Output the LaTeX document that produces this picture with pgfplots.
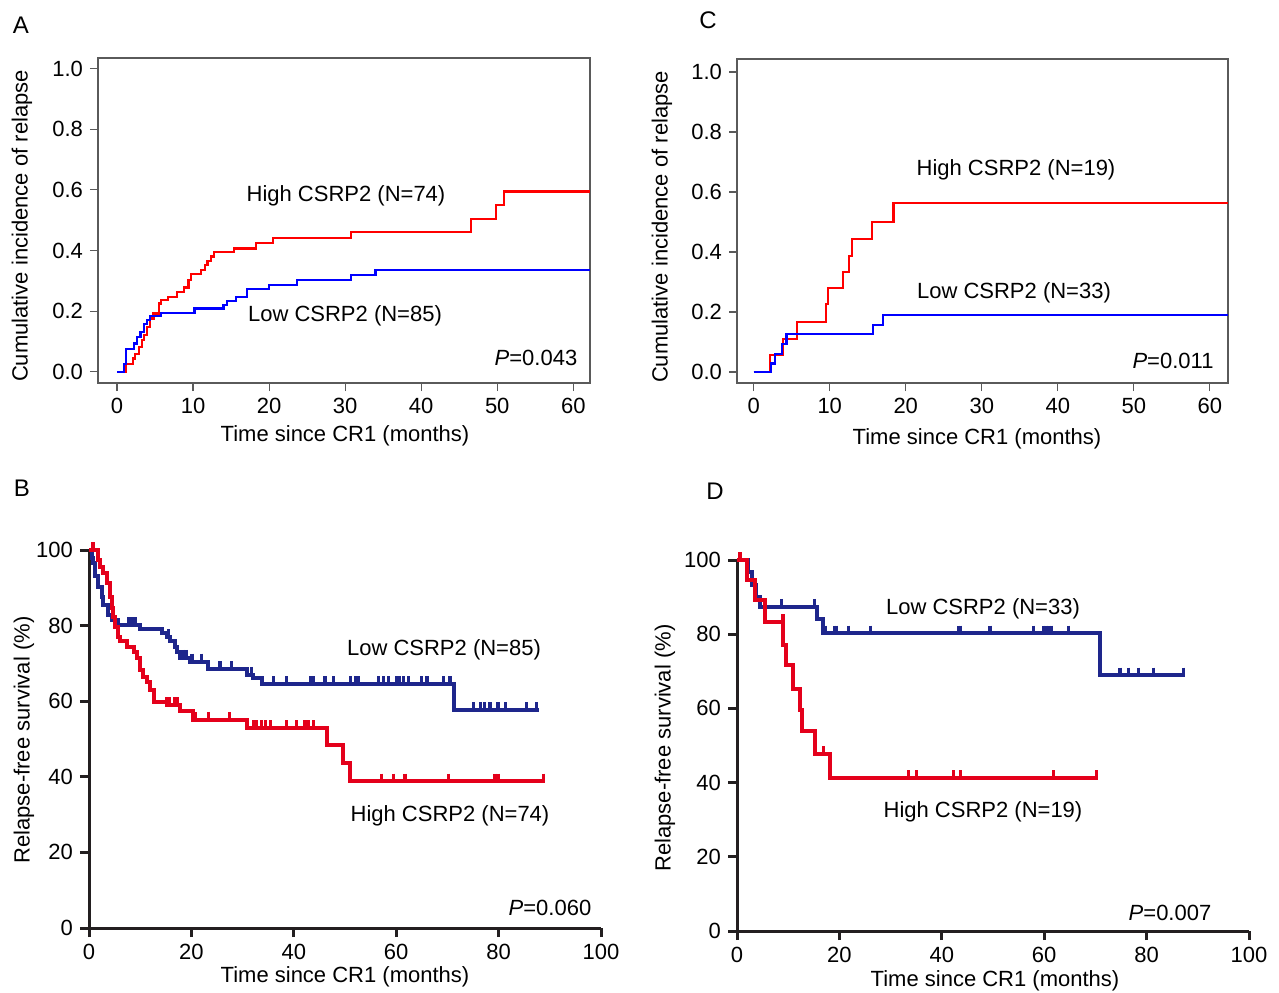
\documentclass[border=0pt]{standalone}
\usepackage{fontspec}
\setmainfont{Liberation Sans}
\usepackage{pgfplots}
\pgfplotsset{compat=1.18}

\definecolor{kmred}{RGB}{228,0,27}
\definecolor{kmblue}{RGB}{30,38,140}
\definecolor{axgray}{RGB}{90,90,90}
\definecolor{axblack}{RGB}{35,31,32}

\newcommand{\lbl}{\fontsize{11}{13}\selectfont}

\pgfplotsset{
  ciaxis/.style={
    anchor=south west, scale only axis,
    axis line style={axgray, line width=0.6pt},
    tick style={axgray, line width=0.6pt},
    tick align=outside, major tick length=4pt,
    xtick pos=bottom, ytick pos=left,
    xtick={0,10,...,60}, ytick={0,0.2,0.4,0.6,0.8,1.0},
    yticklabel style={/pgf/number format/.cd, fixed, fixed zerofill, precision=1},
    tick label style={font=\lbl},
    /pgf/number format/assume math mode=true,
  },
  kmaxis/.style={
    anchor=south west, scale only axis,
    axis lines=left, axis line style={-, axblack, line width=1.5pt},
    tick style={axblack, line width=1.5pt},
    tick align=outside, major tick length=4.5pt,
    xmin=0, xmax=100, ymin=0, ymax=100,
    xtick={0,20,...,100}, ytick={0,20,...,100},
    tick label style={font=\lbl},
    /pgf/number format/assume math mode=true,
    clip=false,
  },
  cens/.style={only marks, mark=|, mark size=2.3pt,
    mark options={line width=1.6pt, yshift=1.6pt}},
}

\begin{document}
\begin{tikzpicture}
\path[use as bounding box] (0,0) rectangle (639.5pt,-496pt);

% A
\begin{axis}[ciaxis, at={(49pt,-191.5pt)}, width=246pt, height=162.5pt,
  xmin=-2.5, xmax=62.2, ymin=-0.037, ymax=1.035]
\addplot[const plot, red, line width=1.1pt] coordinates {
(0,0) (1.2,0.027) (2.1,0.044) (2.4,0.060) (2.85,0.082) (3.3,0.104) (3.6,0.121)
(3.95,0.148) (4.3,0.176) (4.8,0.192) (5.5,0.225) (5.8,0.236) (6.7,0.247)
(7.9,0.264) (8.8,0.278) (9.4,0.302) (9.7,0.322) (11.0,0.335) (11.6,0.352)
(11.9,0.366) (12.4,0.380) (12.8,0.396) (15.4,0.407) (18.3,0.425) (20.5,0.440)
(30.8,0.462) (46.6,0.505) (49.8,0.549) (50.9,0.595) (62.2,0.595)};
\addplot[const plot, blue, line width=1.1pt] coordinates {
(0,0) (0.9,0.027) (1.2,0.075) (2.2,0.093) (2.6,0.115) (3.1,0.132) (3.5,0.157)
(3.9,0.170) (4.3,0.184) (5.8,0.195) (10.2,0.209) (14.0,0.220) (14.5,0.234)
(15.6,0.247) (17.1,0.272) (20.0,0.286) (23.7,0.302) (30.8,0.319) (34.0,0.336)
(62.2,0.336)};
\end{axis}

% C
\begin{axis}[ciaxis, at={(368.5pt,-191.5pt)}, width=245.5pt, height=162pt,
  xmin=-2.2, xmax=62.4, ymin=-0.037, ymax=1.043]
\addplot[const plot, red, line width=1.1pt] coordinates {
(0,0) (2.1,0.056) (3.8,0.111) (5.7,0.167) (9.5,0.226) (9.8,0.280) (11.7,0.333)
(12.5,0.386) (12.9,0.444) (15.6,0.500) (18.4,0.563) (62.4,0.563)};
\addplot[const plot, blue, line width=1.1pt] coordinates {
(0,0) (2.3,0.028) (2.8,0.061) (3.7,0.094) (4.3,0.126) (15.7,0.156) (17.0,0.191)
(62.4,0.191)};
\end{axis}

% B
\begin{axis}[kmaxis, at={(44.5pt,-464pt)}, width=256pt, height=189pt]
\addplot[const plot, kmblue, line width=2pt] coordinates {
(0,100) (0.5,98) (0.85,96.5) (1.2,93) (1.8,90.3) (2.5,87.7) (2.8,85.5) (3.8,82.8)
(4.4,81.5) (5.7,80.2) (10.0,79.0) (14.2,78.0) (15.3,77.0) (15.8,75.8) (16.8,74.4)
(17.1,73.1) (17.8,71.5) (19.7,70.5) (23.3,68.5) (30.8,67.0) (32.1,66.1)
(33.7,64.5) (71.2,57.7) (87.8,57.7)};
\addplot[cens, kmblue] coordinates {
(7.7,80.2) (8.3,80.2) (9.0,80.2) (15.5,77.0) (18.4,71.5) (19.1,71.5) (20.1,70.5)
(22.0,70.5) (25.6,68.5) (27.9,68.5) (31.8,67.0) (36.0,64.5) (38.6,64.5) (43.2,64.5)
(43.8,64.5) (46.1,64.5) (47.7,64.5) (51.0,64.5) (52.0,64.5) (52.6,64.5) (56.5,64.5)
(57.5,64.5) (58.5,64.5) (60.1,64.5) (60.7,64.5) (61.4,64.5) (62.4,64.5) (65.0,64.5)
(66.0,64.5) (69.2,64.5) (70.5,64.5) (75.1,57.7) (76.4,57.7) (77.3,57.7) (78.3,57.7)
(79.9,57.7) (81.3,57.7) (85.5,57.7) (87.4,57.7)};
\addplot[const plot, kmred, line width=2pt] coordinates {
(0,100) (1.8,97.4) (2.1,95.6) (2.8,93.8) (3.5,91.2) (4.1,87.7) (4.4,84.6)
(4.75,82.4) (5.1,79.7) (5.7,77.1) (6.1,75.8) (7.4,74.4) (8.7,73.1) (9.3,71.4)
(10.0,68.3) (10.6,66.5) (11.3,65.2) (11.9,63.0) (12.6,59.9) (15.2,59.0)
(17.8,57.3) (20.4,55.1) (30.8,52.9) (46.4,48.5) (49.7,43.7) (51.0,38.8) (89.1,38.8)};
\addplot[cens, kmred] coordinates {
(0.8,100) (15.2,59.0) (15.8,59.0) (16.8,59.0) (17.3,59.0) (20.7,55.1) (23.3,55.1)
(27.5,55.1) (32.1,52.9) (32.7,52.9) (33.7,52.9) (34.4,52.9) (35.4,52.9) (38.6,52.9)
(40.6,52.9) (42.2,52.9) (42.8,52.9) (43.8,52.9) (57.2,38.8) (59.4,38.8) (61.7,38.8)
(70.2,38.8) (79.3,38.8) (79.9,38.8) (88.7,38.8)};
\end{axis}

% D
\begin{axis}[kmaxis, at={(368.5pt,-465.5pt)}, width=256pt, height=185.5pt]
\addplot[const plot, kmblue, line width=2pt] coordinates {
(0,100) (2.2,96.8) (2.9,93.2) (3.8,90.1) (4.5,87.4) (15.7,84.2) (16.7,80.2)
(70.9,68.9) (87.5,68.9)};
\addplot[cens, kmblue] coordinates {
(8.7,87.4) (15.2,87.4) (17.2,80.2) (19.1,80.2) (19.5,80.2) (21.7,80.2) (26.0,80.2)
(43.2,80.2) (43.6,80.2) (49.4,80.2) (57.9,80.2) (59.8,80.2) (60.5,80.2) (61.1,80.2)
(61.5,80.2) (64.7,80.2) (74.8,68.9) (76.4,68.9) (78.4,68.9) (81.3,68.9) (87.2,68.9)};
\addplot[const plot, kmred, line width=2pt] coordinates {
(0,100) (1.9,94.6) (3.5,89.2) (5.5,83.3) (9.0,77.0) (9.6,71.6) (11.0,65.3)
(12.3,59.5) (12.6,53.8) (15.2,47.7) (18.2,41.2) (70.2,41.2)};
\addplot[cens, kmred] coordinates {
(0.6,100) (9.0,83.3) (16.9,47.7) (33.5,41.2) (35.1,41.2) (42.3,41.2) (43.6,41.2)
(61.8,41.2) (70.2,41.2)};
\end{axis}

% text, positioned in reference pixel coordinates
\begin{scope}[x=0.5pt, y=-0.5pt, every node/.style={font=\lbl, inner sep=0pt}]
\node[font=\fontsize{12}{14}\selectfont] at (21,25) {A};
\node[font=\fontsize{12}{14}\selectfont] at (708,20) {C};
\node[font=\fontsize{12}{14}\selectfont] at (22,488) {B};
\node[font=\fontsize{12}{14}\selectfont] at (715,491) {D};

\node[rotate=90] at (22,226) {Cumulative incidence of relapse};
\node at (345,436) {Time since CR1 (months)};
\node at (346,196) {High CSRP2 (N=74)};
\node at (345,316) {Low CSRP2 (N=85)};
\node at (536,358) {\textit{P}=0.043};

\node[rotate=90] at (662,227) {Cumulative incidence of relapse};
\node at (977,439) {Time since CR1 (months)};
\node at (1016,170) {High CSRP2 (N=19)};
\node at (1014,293) {Low CSRP2 (N=33)};
\node at (1173,361) {\textit{P}=0.011};

\node[rotate=90] at (24,740) {Relapse-free survival (\%)};
\node at (345,977) {Time since CR1 (months)};
\node at (444,650) {Low CSRP2 (N=85)};
\node at (450,816) {High CSRP2 (N=74)};
\node at (550,908) {\textit{P}=0.060};

\node[rotate=90] at (665,748) {Relapse-free survival (\%)};
\node at (995,981) {Time since CR1 (months)};
\node at (983,609) {Low CSRP2 (N=33)};
\node at (983,812) {High CSRP2 (N=19)};
\node at (1170,913) {\textit{P}=0.007};
\end{scope}
\end{tikzpicture}
\end{document}
